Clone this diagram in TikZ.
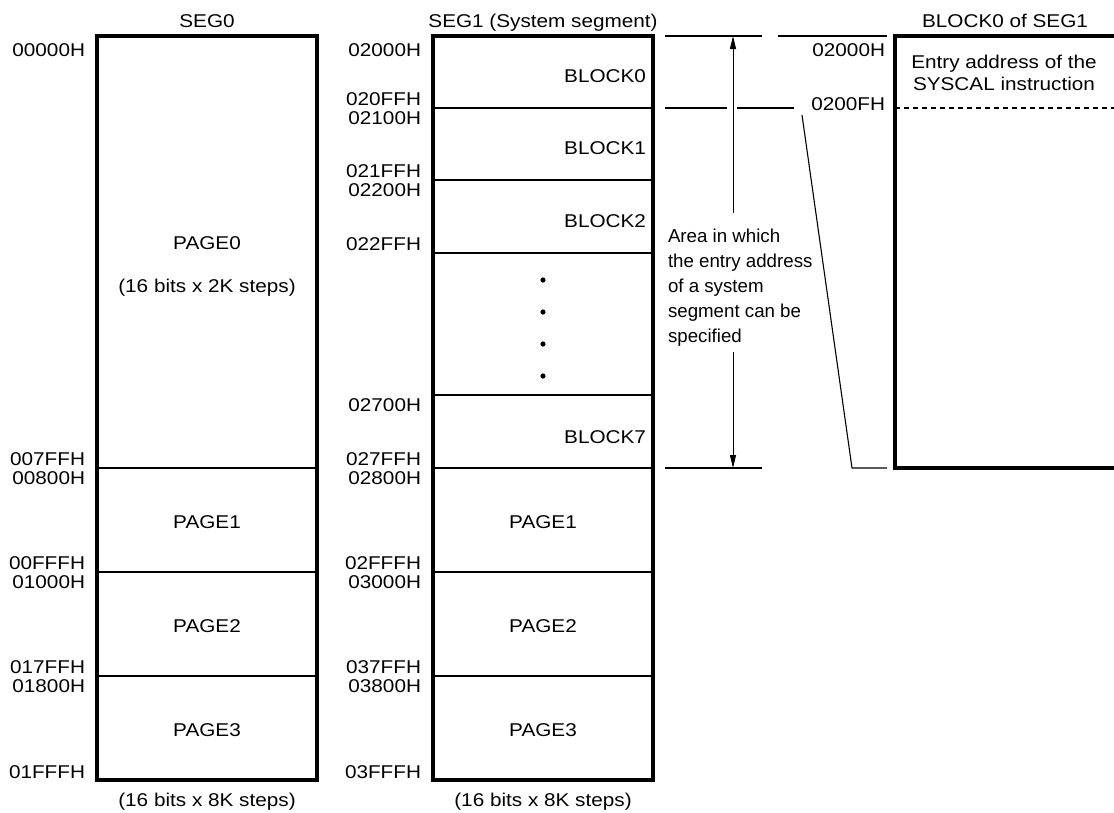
\documentclass[tikz,border=0pt]{standalone}
\usepackage{fontspec}
\setmainfont[FakeStretch=1.12]{Liberation Sans}
\newfontfamily\areafont{Liberation Sans}
\usetikzlibrary{arrows.meta}
\begin{document}
\begin{tikzpicture}[x=1pt,y=-1pt,
  every node/.style={inner sep=0pt, outer sep=0pt},
  font=\fontsize{18.5}{22}\selectfont,
  boxline/.style={line width=3.2pt},
  divline/.style={line width=1.1pt},
  addr/.style={anchor=base east},
  ttl/.style={anchor=base},
  inlabel/.style={anchor=base},
  blk/.style={anchor=base east},
  dimarrow/.style={line width=1pt, -{Triangle[length=13pt,width=6pt]}},
  dotmark/.style={fill=black},
]
\useasboundingbox (0,0) rectangle (1114,812);
\clip (0,0) rectangle (1114,812);

% ---------- SEG0 ----------
\node[ttl] (t0) at (207,27) {SEG0};
\draw[boxline] (97,36) rectangle (317,780);
\foreach \yy in {468,572,676} \draw[divline] (97,\yy) -- (317,\yy);
\node[addr] (a00) at (85,56.5) {00000H};
\node[addr] (a01) at (85,465) {007FFH};
\node[addr] (a02) at (85,484) {00800H};
\node[addr] (a03) at (85,569) {00FFFH};
\node[addr] (a04) at (85,588) {01000H};
\node[addr] (a05) at (85,673) {017FFH};
\node[addr] (a06) at (85,692) {01800H};
\node[addr] (a07) at (85,778) {01FFFH};
\node[inlabel] (p0) at (207,249) {PAGE0};
\node[inlabel] (p0s) at (207,292) {(16 bits x 2K steps)};
\node[inlabel] (p1) at (207,528.5) {PAGE1};
\node[inlabel] (p2) at (207,632.5) {PAGE2};
\node[inlabel] (p3) at (207,736.5) {PAGE3};
\node[inlabel] (n0) at (207,806) {(16 bits x 8K steps)};

% ---------- SEG1 ----------
\node[ttl] (t1) at (543,27) {SEG1 (System segment)};
\draw[boxline] (433,36) rectangle (653,780);
\foreach \yy in {108,180,253,395,468,572,676} \draw[divline] (433,\yy) -- (653,\yy);
\node[addr] (b00) at (421,56.5) {02000H};
\node[addr] (b01) at (421,105) {020FFH};
\node[addr] (b02) at (421,124) {02100H};
\node[addr] (b03) at (421,177) {021FFH};
\node[addr] (b04) at (421,196) {02200H};
\node[addr] (b05) at (421,250) {022FFH};
\node[addr] (b06) at (421,411) {02700H};
\node[addr] (b07) at (421,465) {027FFH};
\node[addr] (b08) at (421,484) {02800H};
\node[addr] (b09) at (421,569) {02FFFH};
\node[addr] (b10) at (421,588) {03000H};
\node[addr] (b11) at (421,673) {037FFH};
\node[addr] (b12) at (421,692) {03800H};
\node[addr] (b13) at (421,778) {03FFFH};
\node[blk] (k0) at (646,82) {BLOCK0};
\node[blk] (k1) at (646,154.5) {BLOCK1};
\node[blk] (k2) at (646,227) {BLOCK2};
\node[blk] (k7) at (646,443) {BLOCK7};
\foreach \yy in {280,312,344,376} \fill[dotmark] (543,\yy) circle (2.6);
\node[inlabel] (q1) at (543,528.5) {PAGE1};
\node[inlabel] (q2) at (543,632.5) {PAGE2};
\node[inlabel] (q3) at (543,736.5) {PAGE3};
\node[inlabel] (n1) at (543,806) {(16 bits x 8K steps)};

% ---------- extension lines and arrow ----------
\draw[divline] (665,36) -- (762,36);
\draw[divline] (778,36) -- (887,36);
\draw[divline] (665,108) -- (727,108);
\draw[divline] (737,108) -- (794,108);
\draw[divline] (665,468) -- (762,468);
\draw[divline] (802,115) -- (852,468) -- (887,468);
\coordinate (atop) at (733,36);
\coordinate (abot) at (733,468);
\coordinate (ag1) at (733,213);
\coordinate (ag2) at (733,352);
\draw[dimarrow] (ag1) -- (atop);
\draw[dimarrow] (ag2) -- (abot);
\node[anchor=north west, align=left, font=\areafont\fontsize{18.7}{25}\selectfont] (area) at (668,228.5)
  {Area in which\\the entry address\\of a system\\segment can be\\specified};

% ---------- BLOCK0 of SEG1 ----------
\node[ttl] (t2) at (1005,27) {BLOCK0 of SEG1};
\draw[boxline] (1130,36) -- (895,36) -- (895,468) -- (1130,468);
\draw[divline, dash pattern=on 5pt off 4pt] (895,108) -- (1114,108);
\node[addr] (c00) at (885,56.5) {02000H};
\node[addr] (c01) at (885,110) {0200FH};
\node[anchor=north, align=center, font=\fontsize{18.5}{22.5}\selectfont] (entry) at (1004,55)
  {Entry address of the\\SYSCAL instruction};
\end{tikzpicture}
\end{document}
